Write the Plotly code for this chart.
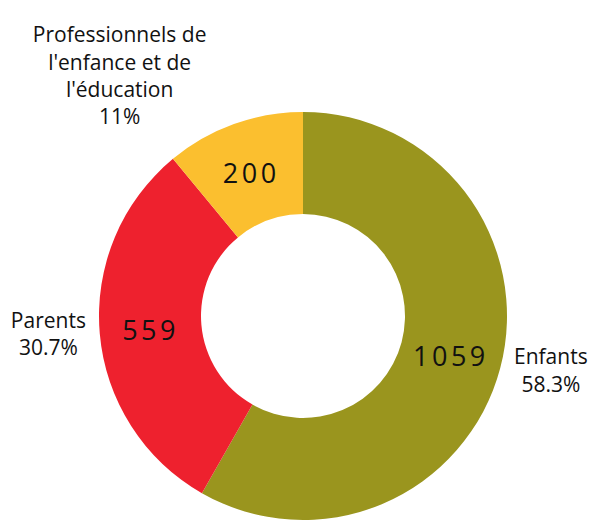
import plotly.graph_objects as go

categories = ["Enfants", "Parents", "Professionnels de<br>l'enfance et de<br>l'éducation"]
values = [1059, 559, 200]
colors = ["#9a951e", "#ee212e", "#fbbf2f"]

font_family = "Open Sans"

fig = go.Figure()

# Slices with values inside
fig.add_trace(go.Pie(
    labels=categories,
    values=values,
    hole=0.5,
    sort=False,
    direction="clockwise",
    rotation=0,
    marker=dict(colors=colors, line=dict(width=0)),
    texttemplate='<span style="letter-spacing:3.5px">%{value}</span>',
    textposition="inside",
    insidetextorientation="horizontal",
    insidetextfont=dict(family=font_family, size=27, color="#111111"),
    showlegend=False,
    hoverinfo="label+value+percent",
))

# Transparent copy for outside category labels + percentages
fig.add_trace(go.Pie(
    labels=categories,
    values=values,
    hole=0.5,
    sort=False,
    direction="clockwise",
    rotation=0,
    marker=dict(colors=["rgba(0,0,0,0)"] * len(values), line=dict(width=0)),
    texttemplate="%{label}<br>%{percent}",
    textposition="outside",
    outsidetextfont=dict(family=font_family, size=21, color="#111111"),
    showlegend=False,
    hoverinfo="skip",
))

fig.update_layout(
    width=594,
    height=525,
    margin=dict(l=98, r=83, t=112, b=0),
    paper_bgcolor="white",
    plot_bgcolor="white",
    font=dict(family=font_family),
)

fig.write_html("out.html",
               config={"displayModeBar": False},
               post_script="document.body.style.margin='0';document.body.style.overflow='hidden';")
